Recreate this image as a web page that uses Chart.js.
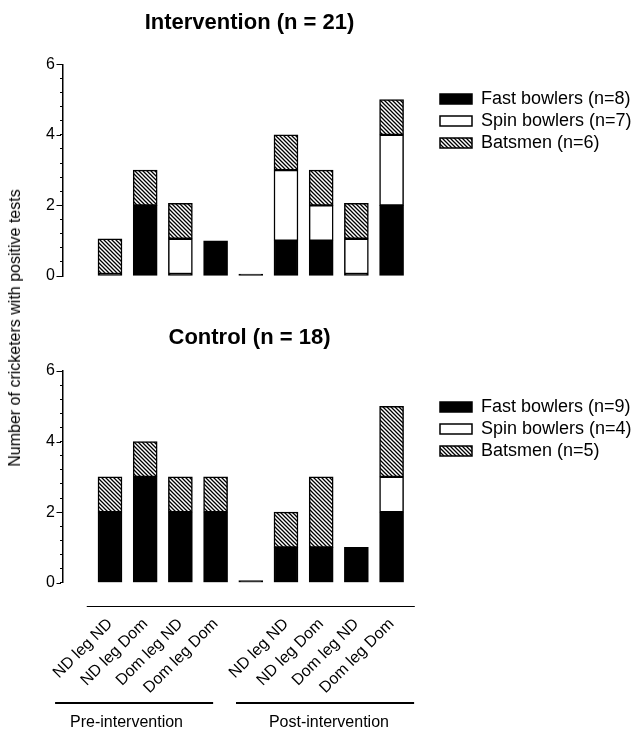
<!DOCTYPE html>
<html><head><meta charset="utf-8">
<script src="https://cdn.jsdelivr.net/npm/chart.js@4"></script>
<style>
html,body{margin:0;padding:0;background:#fff;}
#wrap{position:relative;width:640px;height:731px;overflow:hidden;font-family:"Liberation Sans",Arial,sans-serif;}
canvas{position:absolute;left:0;}
#ytitle{position:absolute;left:15px;top:328px;transform:translate(-50%,-50%) rotate(-90deg);white-space:nowrap;font-size:16px;color:#000;}
</style></head>
<body><div id="wrap">
<canvas id="c1" width="640" height="300" style="top:0;width:640px;height:300px"></canvas>
<canvas id="c2" width="640" height="431" style="top:300px;width:640px;height:431px"></canvas>
<div id="ytitle">Number of cricketers with positive tests</div>
</div>
<script>
// ---- data ----
const categories = ['ND leg ND','ND leg Dom','Dom leg ND','Dom leg Dom','','ND leg ND','ND leg Dom','Dom leg ND','Dom leg Dom'];
const groups = ['Pre-intervention','Post-intervention'];
const yTickLabels = [0,2,4,6];
const interventionTitle = 'Intervention (n = 21)';
const interventionSeries = ['Fast bowlers (n=8)','Spin bowlers (n=7)','Batsmen (n=6)'];
const interventionFast = [0,2,0,1,0,1,1,0,2];
const interventionSpin = [0,0,1,0,0,2,1,1,2];
const interventionBats = [1,1,1,0,0,1,1,1,1];
const controlTitle = 'Control (n = 18)';
const controlSeries = ['Fast bowlers (n=9)','Spin bowlers (n=4)','Batsmen (n=5)'];
const controlFast = [2,3,2,2,0,1,1,1,2];
const controlSpin = [0,0,0,0,0,0,0,0,1];
const controlBats = [1,1,1,1,0,1,2,0,2];

// ---- styling ----
const FONT = '"Liberation Sans", Arial, sans-serif';
Chart.defaults.font.family = FONT;
Chart.defaults.color = '#000';

function hatch(){
  const s=4, c=document.createElement('canvas'); c.width=s; c.height=s;
  const g=c.getContext('2d'); g.fillStyle='#fff'; g.fillRect(0,0,s,s);
  g.strokeStyle='#000'; g.lineWidth=1.3; g.lineCap='square';
  g.beginPath();
  g.moveTo(-1,-1); g.lineTo(s+1,s+1);
  g.moveTo(-1,s-1); g.lineTo(1,s+1);
  g.moveTo(s-1,-1); g.lineTo(s+1,1);
  g.stroke();
  return g.createPattern(c,'repeat');
}

const majorTicks = {
  id:'majorTicks',
  afterDraw(chart){
    const y=chart.scales.y, ctx=chart.ctx, x0=chart.chartArea.left;
    ctx.save(); ctx.strokeStyle='#000'; ctx.lineWidth=1;
    yTickLabels.forEach(v=>{
      const py=Math.round(y.getPixelForValue(v))+0.5;
      ctx.beginPath(); ctx.moveTo(x0-6.5,py); ctx.lineTo(x0-2,py); ctx.stroke();
    });
    ctx.restore();
  }
};

const groupPlugin = {
  id:'groupLines',
  afterDraw(chart, args, o){
    if(!o || !o.show) return;
    const x=chart.scales.x, ctx=chart.ctx, b=chart.chartArea.bottom;
    ctx.save(); ctx.strokeStyle='#000';
    ctx.lineWidth=1;
    let yy=Math.round(b+o.axisOff)+0.5;
    ctx.beginPath(); ctx.moveTo(x.getPixelForValue(o.axisFrom),yy); ctx.lineTo(x.getPixelForValue(o.axisTo),yy); ctx.stroke();
    ctx.lineWidth=2;
    yy=Math.round(b+o.lineOff);
    ctx.fillStyle='#000'; ctx.font='16px '+FONT; ctx.textAlign='center'; ctx.textBaseline='middle';
    groups.forEach((g,i)=>{
      const s=o.spans[i];
      ctx.beginPath(); ctx.moveTo(x.getPixelForValue(s[0]),yy); ctx.lineTo(x.getPixelForValue(s[1]),yy); ctx.stroke();
      ctx.fillText(g, x.getPixelForValue(o.centers[i]), b+o.textOff);
    });
    ctx.restore();
  }
};

const XMIN=-1.335, XMAX=9.262;

function makeChart(id, title, series, fast, spin, bats, opt){
  const pat = hatch();
  const pts = a => a.map((v,i)=>({x:i,y:v}));
  const common = {borderColor:'#000', borderWidth:1.5, borderSkipped:false, barThickness:24};
  return new Chart(document.getElementById(id), {
    type:'bar',
    data:{datasets:[
      Object.assign({label:series[0], data:pts(fast), backgroundColor:'#000', minBarLength:2}, common),
      Object.assign({label:series[1], data:pts(spin), backgroundColor:'#fff'}, common),
      Object.assign({label:series[2], data:pts(bats), backgroundColor:pat}, common)
    ]},
    options:{
      responsive:false, animation:false,
      layout:{padding:{top:0,left:0,right:8,bottom:opt.padBottom}},
      scales:{
        x:{type:'linear', min:XMIN, max:XMAX, stacked:true, display:opt.showX, offset:false,
           grid:{display:false, drawTicks:false}, border:{display:false},
           afterBuildTicks:s=>{ s.ticks = categories.map((_,i)=>({value:i})); },
           afterFit:s=>{ if(opt.xHeight) s.height=opt.xHeight; },
           ticks:{autoSkip:false, minRotation:45, maxRotation:45, padding:32, font:{size:16}, color:'#000',
                  callback:v=>categories[v] ?? ''}},
        y:{type:'linear', min:0, max:6, stacked:true,
           afterFit:s=>{ s.width=63; },
           grid:{drawOnChartArea:false, drawTicks:true, tickLength:3, color:'#000', lineWidth:1},
           border:{display:true, color:'#000', width:1.5},
           ticks:{stepSize:0.4, autoSkip:false, padding:5, font:{size:16}, color:'#000',
                  callback:v=>yTickLabels.includes(Math.round(v*10)/10) ? String(Math.round(v)) : ''}}
      },
      plugins:{
        title:{display:true, text:title, fullSize:false, color:'#000', font:{size:22, weight:'bold'}, padding:opt.titlePad},
        legend:{position:'right', align:'start', maxWidth:196,
          title:{display:true, text:' ', font:{size:10}, padding:{top:opt.legendOff, bottom:0}},
          labels:{boxWidth:32, boxHeight:10, padding:4, font:{size:18}, color:'#000'}},
        tooltip:{enabled:false},
        groupLines:opt.groups
      }
    },
    plugins:[majorTicks, groupPlugin]
  });
}

makeChart('c1', interventionTitle, interventionSeries, interventionFast, interventionSpin, interventionBats, {
  padBottom:24, showX:false, xHeight:0, titlePad:{top:9.3,bottom:28.6}, legendOff:74, groups:{show:false}
});
makeChart('c2', controlTitle, controlSeries, controlFast, controlSpin, controlBats, {
  padBottom:0, showX:true, xHeight:148.3, titlePad:{top:24.8,bottom:19.8}, legendOff:82,
  groups:{show:true, axisOff:23, axisFrom:-0.66, axisTo:8.66, lineOff:120.6, textOff:139.5,
          spans:[[-1.56,2.93],[3.58,8.64]], centers:[0.47,6.22]}
});
</script>
</body></html>
